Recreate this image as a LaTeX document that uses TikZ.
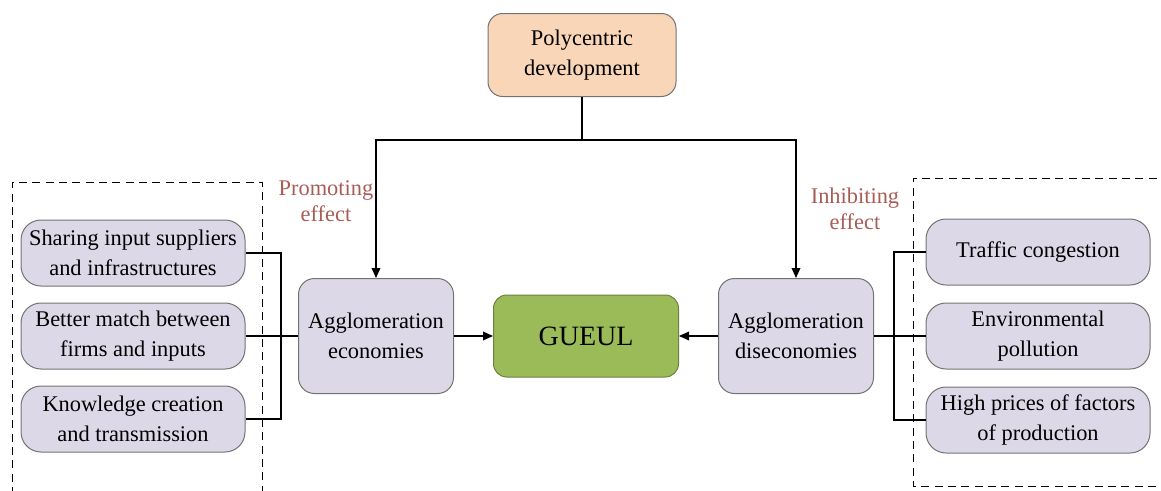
\documentclass[tikz,border=0pt]{standalone}
\usepackage{fontspec}
\setmainfont{Liberation Serif}
\usepackage{tikz}
\usetikzlibrary{arrows.meta, positioning, calc}
\definecolor{peach}{RGB}{250,214,184}
\definecolor{lavender}{RGB}{220,216,232}
\definecolor{leaf}{RGB}{155,187,89}
\definecolor{effectred}{RGB}{168,92,86}
\tikzset{
  factor box/.style={
    rectangle, rounded corners=15pt, draw=black!55, fill=lavender,
    minimum width=168pt, minimum height=49.5pt,
    align=center, inner sep=0pt, line width=0.75pt,
    font=\fontsize{16.8pt}{22.5pt}\selectfont
  },
  mech box/.style={
    factor box, rounded corners=12pt,
    minimum width=116.25pt, minimum height=86.25pt
  },
  source box/.style={
    factor box, rounded corners=11pt, fill=peach,
    minimum width=141pt, minimum height=62.25pt
  },
  outcome box/.style={
    factor box, rounded corners=10pt, fill=leaf, draw=leaf!70!black,
    minimum width=138.75pt, minimum height=61.5pt,
    font=\fontsize{21pt}{24pt}\selectfont
  },
  flow arrow/.style={
    -{Triangle[length=7.5pt,width=6.5pt]}, line width=1pt, draw=black
  },
  flow line/.style={
    line width=1pt, draw=black
  },
  group frame/.style={
    dashed, dash pattern=on 6pt off 4pt, line width=0.75pt, draw=black
  },
  effect label/.style={
    text=effectred, align=center,
    font=\fontsize{16.8pt}{19.5pt}\selectfont
  }
}

\begin{document}
\begin{tikzpicture}[x=0.75pt, y=-0.75pt]
  \useasboundingbox (0,0) rectangle (1161,490);

  % dashed groups
  \draw [group frame] (12,495) -- (12,182) -- (262,182) -- (262,495);
  \draw [group frame] (1170,178) -- (913,178) -- (913,486) -- (1170,486);

  \node (pd) [source box] at (582,55) {Polycentric\\development};
  \node (ae) [mech box] at (376,336) {Agglomeration\\economies};
  \node (gu) [outcome box] at (586,336) {GUEUL};
  \node (ad) [mech box] at (796,336) {Agglomeration\\diseconomies};

  \node (s1) [factor box] at (133,253) {Sharing input suppliers\\and infrastructures};
  \node (s2) [factor box] at (133,336) {Better match between\\firms and inputs};
  \node (s3) [factor box] at (133,419) {Knowledge creation\\and transmission};

  \node (r1) [factor box] at (1038,252) {Traffic congestion};
  \node (r2) [factor box] at (1038,336) {Environmental\\pollution};
  \node (r3) [factor box] at (1038,420) {High prices of factors\\of production};

  \node (pe) [effect label] at (326,201) {Promoting\\effect};
  \node (ie) [effect label] at (855,209) {Inhibiting\\effect};

  \coordinate (split) at (582,140);
  \coordinate (lj) at (281,336);
  \coordinate (rj) at (894,336);

  \draw [flow line] (pd.south) -- (split);
  \draw [flow arrow] (split) -| (ae.north);
  \draw [flow arrow] (split) -| (ad.north);
  \draw [flow arrow] (ae) -- (gu);
  \draw [flow arrow] (ad) -- (gu);

  \draw [flow line] (s1.east) -| (lj) |- (s3.east);
  \draw [flow line] (s2.east) -- (ae.west);
  \draw [flow line] (r1.west) -| (rj) |- (r3.west);
  \draw [flow line] (ad.east) -- (r2.west);
\end{tikzpicture}
\end{document}
